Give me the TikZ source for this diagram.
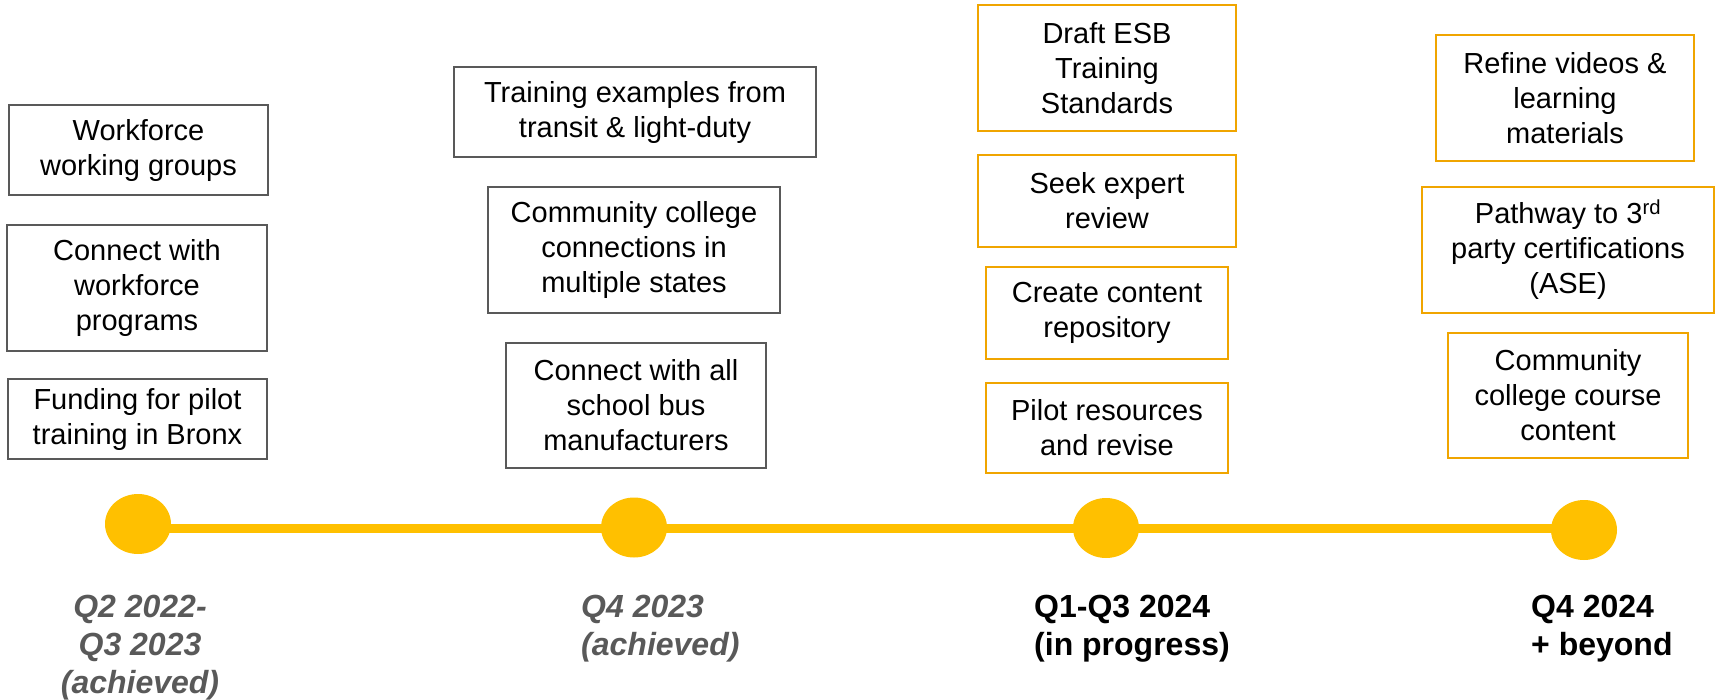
\documentclass[tikz,border=0pt]{standalone}
\usepackage{fontspec}
\setmainfont{Liberation Sans}
\usetikzlibrary{shapes.geometric}
\definecolor{boxgrey}{HTML}{595959}
\definecolor{boxorange}{RGB}{240,165,0}
\definecolor{tlyellow}{HTML}{FFC000}
\definecolor{labgrey}{HTML}{595959}
\begin{document}
\begin{tikzpicture}[x=1pt,y=-1pt,
  basebox/.style={line width=2pt, inner sep=0pt, align=center, font=\fontsize{29}{35}\selectfont},
  gbox/.style={basebox, draw=boxgrey},
  obox/.style={basebox, draw=boxorange},
  dot/.style={ellipse, fill=tlyellow, minimum width=66pt, minimum height=60pt, inner sep=0pt},
  tline/.style={draw=tlyellow, line width=9pt},
  lab/.style={inner sep=0pt, font=\fontsize{32}{38}\selectfont\bfseries},
  labdone/.style={lab, text=labgrey, font=\fontsize{32}{38}\selectfont\bfseries\itshape}]
\useasboundingbox (0,0) rectangle (1715,699);
% column 1
\node[gbox, minimum width=259pt, minimum height=90pt] (g1) at (138.5,150) {Workforce\\working groups};
\node[gbox, minimum width=260pt, minimum height=126pt] (g2) at (137,288) {Connect with\\workforce\\programs};
\node[gbox, minimum width=259pt, minimum height=80pt] (g3) at (137.5,419) {Funding for pilot\\training in Bronx};
% column 2
\node[gbox, minimum width=362pt, minimum height=90pt] (h1) at (635,112) {Training examples from\\transit \& light-duty};
\node[gbox, minimum width=292pt, minimum height=126pt] (h2) at (634,250) {Community college\\connections in\\multiple states};
\node[gbox, minimum width=260pt, minimum height=125pt] (h3) at (636,405.5) {Connect with all\\school bus\\manufacturers};
% column 3
\node[obox, minimum width=258pt, minimum height=126pt] (o1) at (1107,68) {Draft ESB\\Training\\Standards};
\node[obox, minimum width=258pt, minimum height=92pt] (o2) at (1107,201) {Seek expert\\review};
\node[obox, minimum width=242pt, minimum height=92pt] (o3) at (1107,313) {Create content\\repository};
\node[obox, minimum width=242pt, minimum height=90pt] (o4) at (1107,428) {Pilot resources\\and revise};
% column 4
\node[obox, minimum width=258pt, minimum height=126pt] (p1) at (1565,98) {Refine videos \&\\learning\\materials};
\node[obox, minimum width=292pt, minimum height=126pt] (p2) at (1568,250) {Pathway to 3\textsuperscript{rd}\\party certifications\\(ASE)};
\node[obox, minimum width=240pt, minimum height=125pt] (p3) at (1568,395.5) {Community\\college course\\content};
% timeline
\draw[tline] (138,528.5) coordinate (ls) -- (1584,528.5) coordinate (le);
\node[dot] (t1) at (138,524) {};
\node[dot] (t2) at (634,527.5) {};
\node[dot] (t3) at (1106,528) {};
\node[dot] (t4) at (1584,530) {};
% labels
\node[labdone, align=center, anchor=north] (l1) at (140,595) {Q2 2022-\\Q3 2023\\(achieved)};
\node[labdone, align=left, anchor=north west] (l2) at (581,595) {Q4 2023\\(achieved)};
\node[lab, align=left, anchor=north west] (l3) at (1034,595) {Q1-Q3 2024\\(in progress)};
\node[lab, align=left, anchor=north west] (l4) at (1531,595) {Q4 2024\\+ beyond};
\end{tikzpicture}
\end{document}
